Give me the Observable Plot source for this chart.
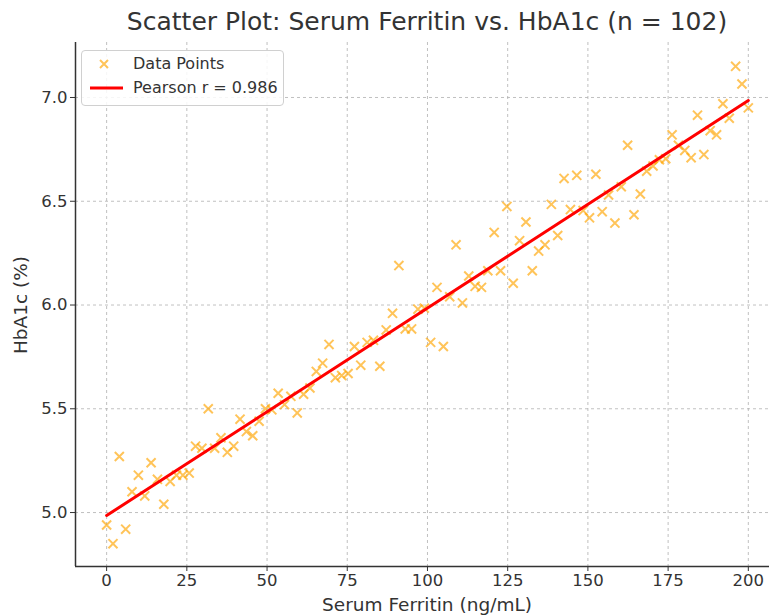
<!DOCTYPE html>
<html>
<head>
<meta charset="utf-8">
<script src="https://cdn.jsdelivr.net/npm/d3@7"></script>
<script src="https://cdn.jsdelivr.net/npm/@observablehq/plot@0.6"></script>
<style>
  html, body { margin: 0; padding: 0; background: #fff; overflow: hidden; }
  #wrap { position: relative; width: 769px; height: 616px; font-family: "DejaVu Sans", sans-serif; color: #333; }
  #chart { position: absolute; left: 0; top: 0; }
  .title { position: absolute; left: 74px; width: 706px; top: 7px; text-align: center; font-size: 25px; line-height: 30px; color: #333; white-space: nowrap; }
  .xlabel { position: absolute; left: 74px; width: 706px; top: 593px; text-align: center; font-size: 18.5px; line-height: 24px; white-space: nowrap; }
  .ylabel { position: absolute; left: 21px; top: 305px; transform: translate(-50%, -50%) rotate(-90deg); font-size: 18.5px; line-height: 22px; white-space: nowrap; }
  .legend { position: absolute; left: 81px; top: 50px; width: 201px; height: 54px; border: 1px solid #d0d0d0; border-radius: 4px; background: rgba(255,255,255,0.85); font-size: 16px; }
  .legend .row { position: absolute; left: 0; height: 20px; line-height: 20px; }
  .legend .row span { position: absolute; left: 51px; white-space: nowrap; }
  .legend svg { position: absolute; left: 0; top: 0; }
</style>
</head>
<body>
<div id="wrap">
  <div id="chart"></div>
  <div class="title">Scatter Plot: Serum Ferritin vs. HbA1c (n = 102)</div>
  <div class="xlabel">Serum Ferritin (ng/mL)</div>
  <div class="ylabel">HbA1c (%)</div>
  <div class="legend">
    <div class="row" style="top:3px"><svg width="48" height="20"><path d="M18,6 L26,14 M26,6 L18,14" stroke="orange" stroke-opacity="0.65" stroke-width="2"/></svg><span>Data Points</span></div>
    <div class="row" style="top:27px"><svg width="48" height="20"><line x1="8" x2="41" y1="10" y2="10" stroke="red" stroke-width="3"/></svg><span>Pearson r = 0.986</span></div>
  </div>
</div>
<script>
const ferritin = [0, 1.98, 3.96, 5.94, 7.92, 9.9, 11.88, 13.86, 15.84, 17.82, 19.8, 21.78, 23.76, 25.74, 27.72, 29.7, 31.68, 33.66, 35.64, 37.62, 39.6, 41.58, 43.56, 45.54, 47.52, 49.5, 51.49, 53.47, 55.45, 57.43, 59.41, 61.39, 63.37, 65.35, 67.33, 69.31, 71.29, 73.27, 75.25, 77.23, 79.21, 81.19, 83.17, 85.15, 87.13, 89.11, 91.09, 93.07, 95.05, 97.03, 99.01, 100.99, 102.97, 104.95, 106.93, 108.91, 110.89, 112.87, 114.85, 116.83, 118.81, 120.79, 122.77, 124.75, 126.73, 128.71, 130.69, 132.67, 134.65, 136.63, 138.61, 140.59, 142.57, 144.55, 146.53, 148.51, 150.5, 152.48, 154.46, 156.44, 158.42, 160.4, 162.38, 164.36, 166.34, 168.32, 170.3, 172.28, 174.26, 176.24, 178.22, 180.2, 182.18, 184.16, 186.14, 188.12, 190.1, 192.08, 194.06, 196.04, 198.02, 200];
const hba1c = [4.94, 4.85, 5.27, 4.92, 5.10, 5.18, 5.08, 5.24, 5.16, 5.04, 5.15, 5.18, 5.18, 5.19, 5.32, 5.31, 5.50, 5.31, 5.36, 5.29, 5.32, 5.45, 5.39, 5.37, 5.44, 5.50, 5.495, 5.575, 5.52, 5.56, 5.48, 5.57, 5.60, 5.68, 5.72, 5.81, 5.65, 5.66, 5.67, 5.80, 5.71, 5.82, 5.83, 5.705, 5.88, 5.96, 6.19, 5.885, 5.885, 5.98, 5.985, 5.82, 6.085, 5.80, 6.04, 6.29, 6.01, 6.14, 6.09, 6.085, 6.165, 6.35, 6.165, 6.475, 6.105, 6.31, 6.40, 6.165, 6.26, 6.29, 6.485, 6.335, 6.61, 6.46, 6.625, 6.455, 6.42, 6.63, 6.45, 6.53, 6.395, 6.57, 6.77, 6.435, 6.535, 6.645, 6.67, 6.70, 6.705, 6.82, 6.77, 6.745, 6.71, 6.915, 6.725, 6.84, 6.82, 6.97, 6.90, 7.15, 7.065, 6.95];
const xTicks = [0, 25, 50, 75, 100, 125, 150, 175, 200];
const yTicks = [5.0, 5.5, 6.0, 6.5, 7.0];
const xDomain = [-9.7, 206.6];
const yDomain = [4.74, 7.265];

const data = ferritin.map((f, i) => ({ferritin: f, hba1c: hba1c[i]}));

const chart = Plot.plot({
  width: 769,
  height: 616,
  marginLeft: 75,
  marginRight: 0,
  marginTop: 42,
  marginBottom: 50,
  style: {fontFamily: "DejaVu Sans, sans-serif", color: "#333", background: "transparent"},
  x: {domain: xDomain, label: null},
  y: {domain: yDomain, label: null},
  marks: [
    Plot.gridX(xTicks, {stroke: "#b0b0b0", strokeOpacity: 0.8, strokeDasharray: "3,3", strokeWidth: 1}),
    Plot.gridY(yTicks, {stroke: "#b0b0b0", strokeOpacity: 0.8, strokeDasharray: "3,3", strokeWidth: 1}),
    Plot.axisX(xTicks, {tickSize: 5, tickPadding: 3, fontSize: 16.5, label: null, tickFormat: d => String(d), stroke: "#333"}),
    Plot.axisY(yTicks, {tickSize: 5, tickPadding: 3, fontSize: 16.5, label: null, tickFormat: d => d.toFixed(1), stroke: "#333"}),
    Plot.ruleX([xDomain[0]], {stroke: "#333", strokeWidth: 1.5}),
    Plot.ruleY([yDomain[0]], {stroke: "#333", strokeWidth: 1.5}),
    Plot.dot(data, {x: "ferritin", y: "hba1c", symbol: "times", r: 4.2, stroke: "orange", strokeOpacity: 0.65, strokeWidth: 2}),
    Plot.linearRegressionY(data, {x: "ferritin", y: "hba1c", stroke: "red", strokeWidth: 3, ci: 0})
  ]
});
document.getElementById("chart").appendChild(chart);
</script>
</body>
</html>
